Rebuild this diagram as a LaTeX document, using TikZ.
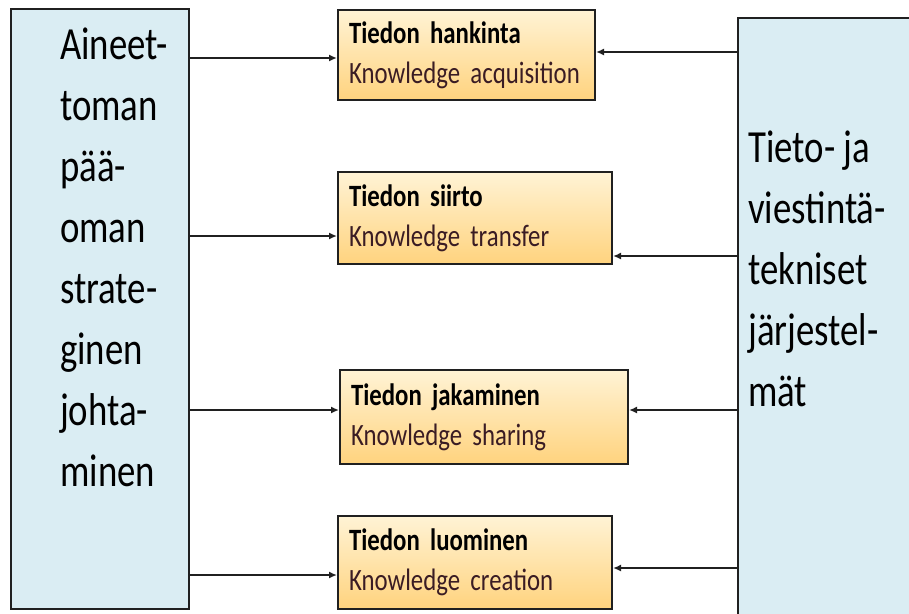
\documentclass[tikz,border=0pt]{standalone}
\usepackage{fontspec}
\setmainfont{Carlito}[FakeStretch=0.8]
\usepackage{xcolor}
\usetikzlibrary{positioning}
\usetikzlibrary{arrows.meta}
\definecolor{paleblue}{HTML}{DAEDF3}
\definecolor{ambertop}{HTML}{FFF3D5}
\definecolor{amberbot}{HTML}{FFD37E}
\definecolor{edge}{HTML}{202020}
\definecolor{knowtext}{HTML}{3A1C24}

\begin{document}
\begin{tikzpicture}
          [x=1pt, y=-1pt,
           sidebox/.style={draw=edge, line width=2.2pt, fill=paleblue, inner sep=0pt, anchor=north west},
           sidetext/.style={inner sep=0pt, align=left, anchor=north west, font=\fontsize{46}{61}\selectfont, text=black},
           taskbox/.style={draw=edge, line width=2pt, top color=ambertop, bottom color=amberbot, inner xsep=11pt, inner ysep=0pt, align=left, anchor=north west, font=\fontsize{31}{40}\selectfont},
           link/.style={line width=2.2pt, draw=edge, -{Latex[length=8pt,width=7pt]}}]
          \clip (0,0) rectangle (909,613);
          \node (strat) [sidebox, minimum width=178pt, minimum height=600pt] at (10,8) {};
          \node (ict) [sidebox, minimum width=200pt, minimum height=620pt] at (737,17) {};
          \node (strattext) [sidetext] at (60,28) {Aineet-\\toman\\pää-\\oman\\strate-\\ginen\\johta-\\minen};
          \node (icttext) [sidetext] at (748,131) {Tieto- ja\\viestintä-\\tekniset\\järjestel-\\mät};

          \node (hank) [taskbox, minimum height=90pt, text width=235pt] at (337,9) {\textbf{Tiedon hankinta}\\\textcolor{knowtext}{Knowledge acquisition}};
          \node (siirto) [taskbox, minimum height=92pt, text width=252pt] at (337,171) {\textbf{Tiedon siirto}\\\textcolor{knowtext}{Knowledge transfer}};
          \node (jak) [taskbox, minimum height=94pt, text width=266pt] at (339,369) {\textbf{Tiedon jakaminen}\\\textcolor{knowtext}{Knowledge sharing}};
          \node (luo) [taskbox, minimum height=93pt, text width=252pt] at (337,515) {\textbf{Tiedon luominen}\\\textcolor{knowtext}{Knowledge creation}};

          \draw[link] (strat.east |- 0,58) -- (hank.west |- 0,58);
          \draw[link] (strat.east |- 0,236) -- (siirto.west |- 0,236);
          \draw[link] (strat.east |- 0,410) -- (jak.west |- 0,410);
          \draw[link] (strat.east |- 0,575) -- (luo.west |- 0,575);
          \draw[link] (ict.west |- 0,52) -- (hank.east |- 0,52);
          \draw[link] (ict.west |- 0,256) -- (siirto.east |- 0,256);
          \draw[link] (ict.west |- 0,410) -- (jak.east |- 0,410);
          \draw[link] (ict.west |- 0,568) -- (luo.east |- 0,568);
        \end{tikzpicture}
\end{document}
